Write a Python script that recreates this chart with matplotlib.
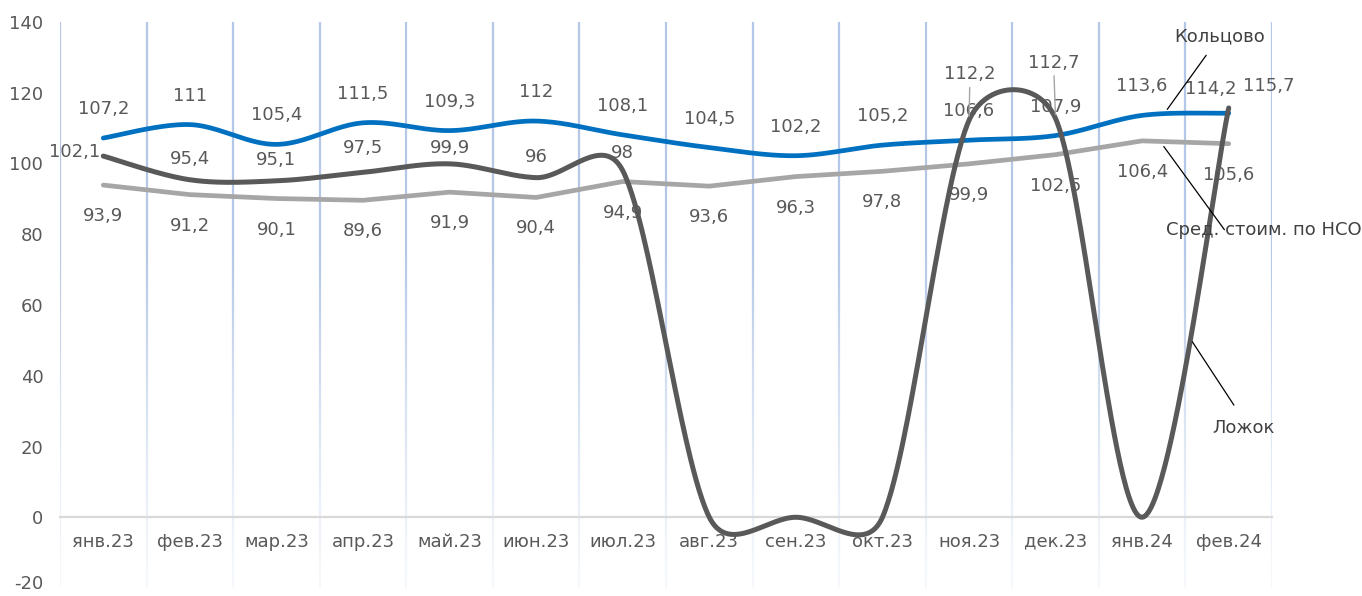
import numpy as np
import matplotlib
matplotlib.use("Agg")
import matplotlib.pyplot as plt
from matplotlib.collections import LineCollection
from matplotlib.colors import to_rgba
from matplotlib.transforms import ScaledTranslation

plt.rcParams['font.family'] = ['DejaVu Sans']
plt.rcParams['axes.unicode_minus'] = False

# ---- data -------------------------------------------------------------
months = ["янв.23", "фев.23", "мар.23", "апр.23", "май.23", "июн.23", "июл.23",
          "авг.23", "сен.23", "окт.23", "ноя.23", "дек.23", "янв.24", "фев.24"]
koltsovo = [107.2, 111, 105.4, 111.5, 109.3, 112, 108.1,
            104.5, 102.2, 105.2, 106.6, 107.9, 113.6, 114.2]
lozhok = [102.1, 95.4, 95.1, 97.5, 99.9, 96, 98,
          0, 0, 0, 112.2, 112.7, 0, 115.7]
nso_avg = [93.9, 91.2, 90.1, 89.6, 91.9, 90.4, 94.9,
           93.6, 96.3, 97.8, 99.9, 102.5, 106.4, 105.6]
y_ticks = [-20, 0, 20, 40, 60, 80, 100, 120, 140]

BLUE = "#0070C0"
DARK = "#595959"
GRAY = "#A6A6A6"
TXT = "#595959"
FS = 13

fig = plt.figure(figsize=(13.62, 5.96), dpi=100)
ax = fig.add_axes([60 / 1362, 8 / 596, 1212 / 1362, 566 / 596])
x = np.arange(len(months))
ax.set_xlim(-0.5, len(months) - 0.5)
ax.set_ylim(y_ticks[0], y_ticks[-1])


def smooth_curve(ax, xs, ys, n=60):
    """Catmull-Rom style Bezier smoothing computed in display space,
    with control arms limited to half of each segment's chord."""
    pts = ax.transData.transform(np.column_stack([xs, ys]))
    N = len(pts)
    t = np.linspace(0, 1, n)[:, None]
    out = []
    for i in range(N - 1):
        p0 = pts[i - 1] if i > 0 else pts[i]
        p1, p2 = pts[i], pts[i + 1]
        p3 = pts[i + 2] if i + 2 < N else pts[i + 1]
        chord = np.linalg.norm(p2 - p1)
        arms = []
        for c in ((p2 - p0) / 6.0, (p3 - p1) / 6.0):
            L = np.linalg.norm(c)
            if L > chord / 2 and L > 0:
                c = c * (chord / 2) / L
            arms.append(c)
        b1 = p1 + arms[0]
        b2 = p2 - arms[1]
        seg = ((1 - t) ** 3) * p1 + 3 * ((1 - t) ** 2) * t * b1 \
            + 3 * (1 - t) * t ** 2 * b2 + t ** 3 * p2
        out.append(seg if i == 0 else seg[1:])
    curve = ax.transData.inverted().transform(np.vstack(out))
    return curve[:, 0], curve[:, 1]


# ---- vertical gridlines at category boundaries, fading downwards -------
grid_rgba = np.array(to_rgba("#B4C7E7"))
ys = np.linspace(y_ticks[0], y_ticks[-1], 120)
for b in np.arange(-0.5, len(months), 1.0):
    segs = [[(b, ys[k]), (b, ys[k + 1])] for k in range(len(ys) - 1)]
    cols = []
    for k in range(len(ys) - 1):
        ym = 0.5 * (ys[k] + ys[k + 1])
        frac = (ym - y_ticks[0]) / (75 - y_ticks[0])
        a = 1.0 if ym >= 75 else 0.12 + 0.88 * max(frac, 0) ** 1.3
        c = grid_rgba.copy()
        c[3] = a
        cols.append(c)
    ax.add_collection(LineCollection(segs, colors=cols, linewidths=1.6, zorder=0.5))

# ---- series -------------------------------------------------------------
ax.plot(x, nso_avg, color=GRAY, lw=3.4, solid_capstyle='round',
        solid_joinstyle='round', zorder=2)
bx, by = smooth_curve(ax, x, koltsovo)
ax.plot(bx, by, color=BLUE, lw=3.4, solid_capstyle='round', zorder=3)
dx_, dy_ = smooth_curve(ax, x, lozhok)
ax.plot(dx_, dy_, color=DARK, lw=3.6, solid_capstyle='round', zorder=4)


def fmt(v):
    s = f"{v:g}"
    return s.replace(".", ",")


def put_label(i, v, off, ha="center", leader=False):
    kw = {}
    if leader:
        kw["arrowprops"] = dict(arrowstyle="-", color=GRAY, lw=1.0,
                                shrinkA=1, shrinkB=3)
    ax.annotate(fmt(v), xy=(i, v), xytext=off, textcoords="offset pixels",
                ha=ha, va="center", fontsize=FS, color=TXT, zorder=6, **kw)


# data labels
for i, v in enumerate(koltsovo):
    off = (-18, 24) if i == len(koltsovo) - 1 else (0, 29)
    put_label(i, v, off)
for i, v in enumerate(nso_avg):
    put_label(i, v, (0, -31))
dark_offsets = {0: (-3, 4), 3: (0, 24), 4: (0, 16), 6: (0, 18),
                10: (1, 46), 11: (-2, 56), 13: (40, 22)}
for i, v in enumerate(lozhok):
    if v == 0:
        continue
    off = dark_offsets.get(i, (0, 21))
    if i == 0:
        put_label(i, v, off, ha="right")
    else:
        put_label(i, v, off, leader=i in (10, 11))

# series names with leader lines
names = [("Кольцово", (12.29, 115.3), (12.74, 130.6), (12.89, 136.0)),
         ("Сред. стоим. по НСО", (12.25, 104.8), (12.95, 81.3), (13.40, 81.3)),
         ("Ложок", (12.58, 49.6), (13.06, 31.7), (13.17, 25.2))]
for name, start, end, txt in names:
    ax.annotate("", xy=start, xytext=end,
                arrowprops=dict(arrowstyle="-", color="black", lw=0.9,
                                shrinkA=0, shrinkB=0), zorder=6,
                annotation_clip=False)
    ax.text(txt[0], txt[1], name, ha="center", va="center", fontsize=FS,
            color="#404040", zorder=6, clip_on=False)

# ---- axes styling ---------------------------------------------------------
for s in ("top", "right", "left"):
    ax.spines[s].set_visible(False)
ax.spines["bottom"].set_position(("data", 0))
ax.spines["bottom"].set_color("#D9D9D9")
ax.spines["bottom"].set_linewidth(1.6)
ax.spines["bottom"].set_zorder(1)
ax.set_xticks(x)
ax.set_xticklabels(months)
ax.set_yticks(y_ticks)
ax.set_yticklabels([str(v) for v in y_ticks])
ax.tick_params(axis="x", length=0, pad=11, labelsize=FS, labelcolor=TXT)
ax.tick_params(axis="y", length=0, pad=12, labelsize=FS, labelcolor=TXT)
ax.patch.set_alpha(0)

# keep the lowest y label inside the canvas
low = ax.get_yticklabels()[0]
low.set_transform(low.get_transform()
                  + ScaledTranslation(0, 4 / 72, fig.dpi_scale_trans))

fig.savefig("out.png", dpi=100)
